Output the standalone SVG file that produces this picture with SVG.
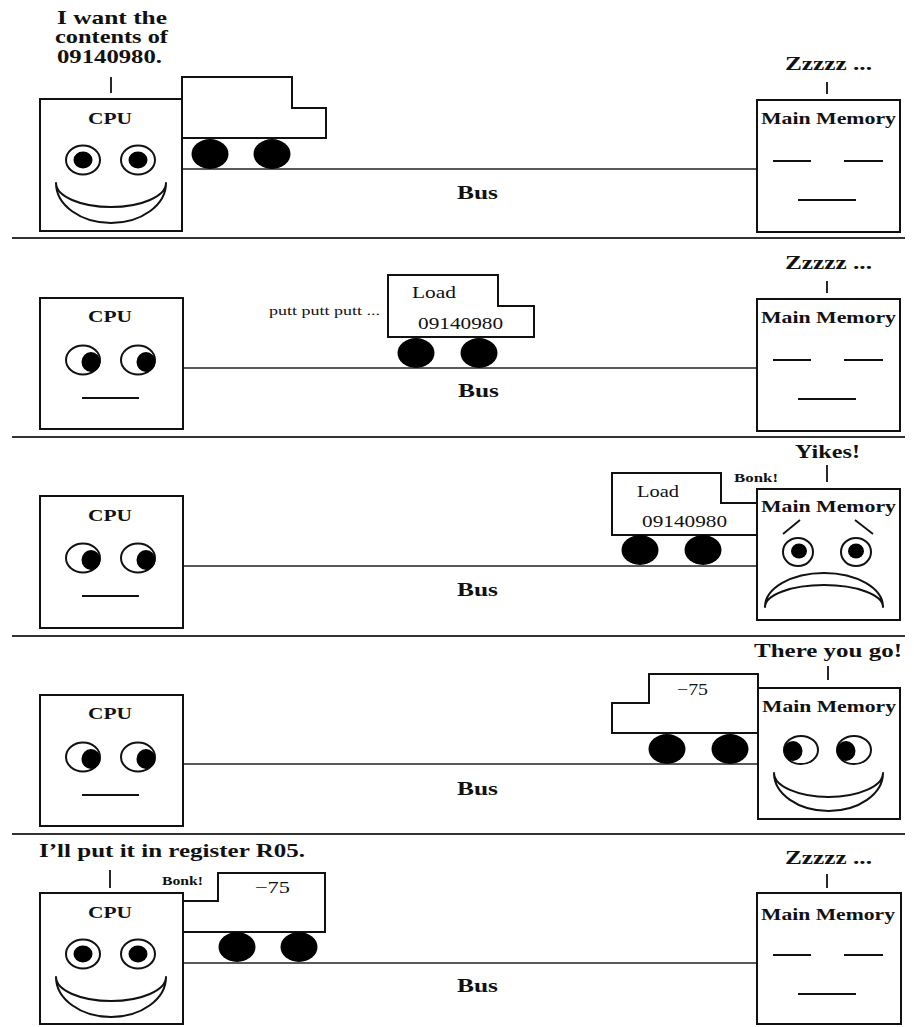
<svg xmlns="http://www.w3.org/2000/svg" width="914" height="1027" viewBox="0 0 914 1027">
  <style>
    .bg { fill: #ffffff; }
    .box { fill: #ffffff; stroke: #111; stroke-width: 2; }
    .truck { fill: #ffffff; stroke: #111; stroke-width: 2; stroke-linejoin: miter; }
    .wheel { fill: #000; }
    .bus { stroke: #222; stroke-width: 1.6; fill: none; }
    .sep { stroke: #333; stroke-width: 2.2; }
    .tick { stroke: #111; stroke-width: 1.8; }
    .dash { stroke: #111; stroke-width: 1.8; }
    .eye { fill: #ffffff; stroke: #111; stroke-width: 2; }
    .pupil { fill: #000; }
    .mouth { fill: #ffffff; stroke: #111; stroke-width: 2; stroke-linejoin: round; }
    .t { font-family: "Liberation Serif", "Times New Roman", serif; fill: #111; }
    .b { font-weight: bold; }
    .big { font-size: 19px; }
    .lbl { font-size: 17px; }
    .cargo { font-size: 16px; }
    .small { font-size: 12px; }
  </style>
  <defs>
    <!-- wheel pair, placed under each truck -->
    <ellipse id="wheel" class="wheel" cx="0" cy="0" rx="18.5" ry="15"/>
    <!-- sleeping face of the memory box, origin at box top-left -->
    <g id="sleepFace">
      <line class="dash" x1="16" y1="61" x2="54" y2="61"/>
      <line class="dash" x1="87" y1="61" x2="126" y2="61"/>
      <line class="dash" x1="41" y1="100" x2="99" y2="100"/>
    </g>
    <!-- grinning CPU face, origin at box top-left -->
    <g id="grinFace">
      <ellipse class="eye" cx="43" cy="61" rx="17" ry="14.5"/>
      <ellipse class="pupil" cx="43" cy="61" rx="9.5" ry="8.5"/>
      <ellipse class="eye" cx="98" cy="61" rx="17" ry="14.5"/>
      <ellipse class="pupil" cx="98" cy="61" rx="9.5" ry="8.5"/>
      <path class="mouth" d="M16,84 A55,40 0 0 0 126,84 A55,24 0 0 1 16,84 Z"/>
    </g>
    <!-- CPU face glancing right with a flat mouth -->
    <g id="glanceFace">
      <ellipse class="eye" cx="43" cy="62" rx="17" ry="14.5"/>
      <ellipse class="pupil" cx="51" cy="64" rx="9.5" ry="10"/>
      <ellipse class="eye" cx="98" cy="62" rx="17" ry="14.5"/>
      <ellipse class="pupil" cx="106" cy="64" rx="9.5" ry="10"/>
      <line class="dash" x1="42" y1="100" x2="99" y2="100"/>
    </g>
  </defs>

  <rect class="bg" x="0" y="0" width="914" height="1027"/>

  <!-- panel separators -->
  <g id="separators">
    <line class="sep" x1="12" y1="238" x2="905" y2="238"/>
    <line class="sep" x1="12" y1="437" x2="905" y2="437"/>
    <line class="sep" x1="12" y1="636" x2="905" y2="636"/>
    <line class="sep" x1="12" y1="834" x2="905" y2="834"/>
  </g>

  <!-- bus connectors between CPU and Main Memory -->
  <g id="connectors">
    <line class="bus" x1="182" y1="169" x2="757" y2="169"/>
    <line class="bus" x1="183" y1="368" x2="757" y2="368"/>
    <line class="bus" x1="183" y1="566" x2="757" y2="566"/>
    <line class="bus" x1="183" y1="764" x2="758" y2="764"/>
    <line class="bus" x1="183" y1="963" x2="757" y2="963"/>
  </g>

  <!-- ===== Panel 1: request ===== -->
  <g id="panel1">
    <g id="p1-cpu">
      <text class="t b big" x="57" y="24" textLength="110" lengthAdjust="spacingAndGlyphs">I want the</text>
      <text class="t b big" x="55" y="43" textLength="113" lengthAdjust="spacingAndGlyphs">contents of</text>
      <text class="t b big" x="57" y="63" textLength="105" lengthAdjust="spacingAndGlyphs">09140980.</text>
      <line class="tick" x1="111" y1="77" x2="111" y2="93"/>
      <rect class="box" x="40" y="99" width="142" height="132"/>
      <text class="t b lbl" x="88" y="124" textLength="44" lengthAdjust="spacingAndGlyphs">CPU</text>
      <use href="#grinFace" x="40" y="99"/>
    </g>
    <g id="p1-truck">
      <path class="truck" d="M182,77 H292 V108 H326 V138 H182 Z"/>
      <use href="#wheel" x="210" y="154"/>
      <use href="#wheel" x="272" y="154"/>
    </g>
    <text class="t b" x="457" y="199" font-size="18" textLength="41" lengthAdjust="spacingAndGlyphs">Bus</text>
    <g id="p1-memory">
      <text class="t b big" x="785" y="70" textLength="87" lengthAdjust="spacingAndGlyphs">Zzzzz ...</text>
      <line class="tick" x1="827" y1="82" x2="827" y2="94"/>
      <rect class="box" x="757" y="100" width="143" height="132"/>
      <text class="t b lbl" x="761" y="124" textLength="135" lengthAdjust="spacingAndGlyphs">Main Memory</text>
      <use href="#sleepFace" x="757" y="100"/>
    </g>
  </g>

  <!-- ===== Panel 2: truck under way ===== -->
  <g id="panel2" transform="translate(0,199)">
    <g id="p2-cpu">
      <rect class="box" x="40" y="99" width="143" height="131"/>
      <text class="t b lbl" x="88" y="123" textLength="44" lengthAdjust="spacingAndGlyphs">CPU</text>
      <use href="#glanceFace" x="40" y="99"/>
    </g>
    <text class="t small" x="269" y="116" textLength="111" lengthAdjust="spacingAndGlyphs">putt putt putt ...</text>
    <g id="p2-truck">
      <path class="truck" d="M388,76 H498 V107 H534 V138 H388 Z"/>
      <text class="t cargo" x="412" y="99" textLength="44" lengthAdjust="spacingAndGlyphs">Load</text>
      <text class="t cargo" x="418" y="130" textLength="85" lengthAdjust="spacingAndGlyphs">09140980</text>
      <use href="#wheel" x="416" y="154"/>
      <use href="#wheel" x="479" y="154"/>
    </g>
    <text class="t b" x="458" y="198" font-size="18" textLength="41" lengthAdjust="spacingAndGlyphs">Bus</text>
    <g id="p2-memory">
      <text class="t b big" x="785" y="70" textLength="87" lengthAdjust="spacingAndGlyphs">Zzzzz ...</text>
      <line class="tick" x1="827" y1="82" x2="827" y2="94"/>
      <rect class="box" x="757" y="100" width="143" height="132"/>
      <text class="t b lbl" x="761" y="124" textLength="135" lengthAdjust="spacingAndGlyphs">Main Memory</text>
      <use href="#sleepFace" x="757" y="100"/>
    </g>
  </g>

  <!-- ===== Panel 3: arrival at memory ===== -->
  <g id="panel3" transform="translate(0,397)">
    <g id="p3-cpu">
      <rect class="box" x="40" y="99" width="143" height="132"/>
      <text class="t b lbl" x="88" y="124" textLength="44" lengthAdjust="spacingAndGlyphs">CPU</text>
      <use href="#glanceFace" x="40" y="99"/>
    </g>
    <g id="p3-truck">
      <path class="truck" d="M612,76 H721 V106 H757 V138 H612 Z"/>
      <text class="t cargo" x="637" y="100" textLength="42" lengthAdjust="spacingAndGlyphs">Load</text>
      <text class="t cargo" x="642" y="130" textLength="85" lengthAdjust="spacingAndGlyphs">09140980</text>
      <use href="#wheel" x="640" y="153"/>
      <use href="#wheel" x="703" y="153"/>
    </g>
    <text class="t b small" x="734" y="85" textLength="44" lengthAdjust="spacingAndGlyphs">Bonk!</text>
    <text class="t b" x="457" y="199" font-size="18" textLength="41" lengthAdjust="spacingAndGlyphs">Bus</text>
    <g id="p3-memory">
      <text class="t b big" x="795" y="61" textLength="65" lengthAdjust="spacingAndGlyphs">Yikes!</text>
      <line class="tick" x1="827" y1="68" x2="827" y2="85"/>
      <rect class="box" x="757" y="92" width="143" height="131"/>
      <text class="t b lbl" x="761" y="115" textLength="135" lengthAdjust="spacingAndGlyphs">Main Memory</text>
      <line class="dash" x1="783" y1="137" x2="800" y2="123"/>
      <line class="dash" x1="855" y1="123" x2="873" y2="137"/>
      <ellipse class="eye" cx="798" cy="155" rx="15" ry="14"/>
      <ellipse class="pupil" cx="799" cy="154" rx="8" ry="7.5"/>
      <ellipse class="eye" cx="856" cy="155" rx="15" ry="14"/>
      <ellipse class="pupil" cx="856" cy="154" rx="8" ry="7.5"/>
      <path class="mouth" d="M765,210 A59,34 0 0 1 883,210 A59,22 0 0 0 765,210 Z"/>
    </g>
  </g>

  <!-- ===== Panel 4: memory hands back the value ===== -->
  <g id="panel4" transform="translate(0,596)">
    <g id="p4-cpu">
      <rect class="box" x="40" y="99" width="143" height="131"/>
      <text class="t b lbl" x="88" y="123" textLength="44" lengthAdjust="spacingAndGlyphs">CPU</text>
      <use href="#glanceFace" x="40" y="99"/>
    </g>
    <g id="p4-truck">
      <path class="truck" d="M612,107 H649 V78 H758 V137 H612 Z"/>
      <text class="t cargo" x="677" y="99" textLength="31" lengthAdjust="spacingAndGlyphs">−75</text>
      <use href="#wheel" x="667" y="153"/>
      <use href="#wheel" x="730" y="153"/>
    </g>
    <text class="t b" x="457" y="199" font-size="18" textLength="41" lengthAdjust="spacingAndGlyphs">Bus</text>
    <g id="p4-memory">
      <text class="t b big" x="754" y="61" textLength="148" lengthAdjust="spacingAndGlyphs">There you go!</text>
      <line class="tick" x1="828" y1="70" x2="828" y2="84"/>
      <rect class="box" x="758" y="92" width="142" height="131"/>
      <text class="t b lbl" x="762" y="116" textLength="134" lengthAdjust="spacingAndGlyphs">Main Memory</text>
      <ellipse class="eye" cx="801" cy="154" rx="17" ry="14"/>
      <ellipse class="pupil" cx="793" cy="155" rx="9.5" ry="10"/>
      <ellipse class="eye" cx="854" cy="154" rx="17" ry="14"/>
      <ellipse class="pupil" cx="846" cy="155" rx="9.5" ry="10"/>
      <path class="mouth" d="M774,177 A54.5,38 0 0 0 883,177 A54.5,24 0 0 1 774,177 Z"/>
    </g>
  </g>

  <!-- ===== Panel 5: value delivered to the CPU ===== -->
  <g id="panel5" transform="translate(0,794)">
    <g id="p5-cpu">
      <text class="t b big" x="39" y="63" textLength="266" lengthAdjust="spacingAndGlyphs">I’ll put it in register R05.</text>
      <line class="tick" x1="110" y1="76" x2="110" y2="94"/>
      <rect class="box" x="40" y="99" width="143" height="131"/>
      <text class="t b lbl" x="88" y="124" textLength="44" lengthAdjust="spacingAndGlyphs">CPU</text>
      <use href="#grinFace" x="40" y="99"/>
    </g>
    <text class="t b small" x="162" y="91" textLength="41" lengthAdjust="spacingAndGlyphs">Bonk!</text>
    <g id="p5-truck">
      <path class="truck" d="M183,107 H218 V79 H325 V138 H183 Z"/>
      <text class="t cargo" x="255" y="99" textLength="35" lengthAdjust="spacingAndGlyphs">−75</text>
      <use href="#wheel" x="237" y="153"/>
      <use href="#wheel" x="299" y="153"/>
    </g>
    <text class="t b" x="457" y="198" font-size="18" textLength="41" lengthAdjust="spacingAndGlyphs">Bus</text>
    <g id="p5-memory">
      <text class="t b big" x="785" y="70" textLength="87" lengthAdjust="spacingAndGlyphs">Zzzzz ...</text>
      <line class="tick" x1="827" y1="80" x2="827" y2="94"/>
      <rect class="box" x="757" y="99" width="144" height="131"/>
      <text class="t b lbl" x="761" y="126" textLength="134" lengthAdjust="spacingAndGlyphs">Main Memory</text>
      <use href="#sleepFace" x="757" y="100"/>
    </g>
  </g>
</svg>
